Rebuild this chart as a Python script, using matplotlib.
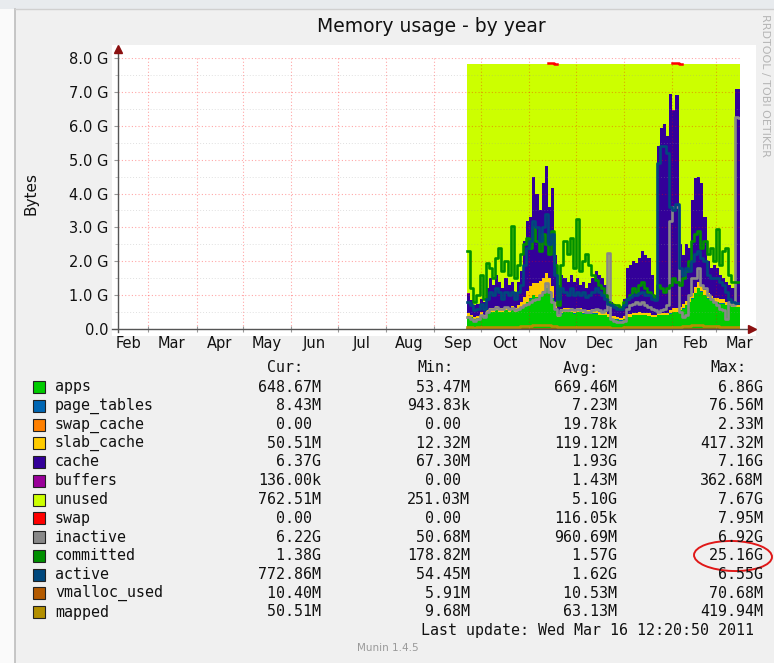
import numpy as np
import pandas as pd
import matplotlib
matplotlib.use('Agg')
import matplotlib.pyplot as plt
import matplotlib.dates as mdates
from matplotlib.ticker import MultipleLocator, FuncFormatter, NullFormatter
from matplotlib.patches import Rectangle, Ellipse

plt.rcParams['font.family'] = ['DejaVu Sans']

# samples every 2 days, Sep 22 2010 -> Mar 15 2011 (GB)
apps = [0.38,0.35,0.30,0.32,0.40,0.35,0.45,0.50,0.50,0.55,
        0.50,0.50,0.55,0.50,0.55,0.50,0.55,0.60,0.70,0.80,
        0.90,1.00,0.95,1.00,1.10,1.20,1.10,0.90,0.60,0.35,
        0.45,0.50,0.50,0.50,0.45,0.50,0.50,0.45,0.45,0.45,
        0.45,0.45,0.40,0.40,0.40,0.35,0.30,0.30,0.28,0.25,
        0.30,0.35,0.35,0.40,0.40,0.40,0.40,0.40,0.38,0.35,
        0.35,0.40,0.40,0.40,0.40,0.45,0.50,0.50,0.55,0.60,
        0.70,0.80,0.90,1.05,1.20,1.10,1.00,0.90,0.85,0.80,
        0.80,0.75,0.75,0.70,0.70,0.65,0.65,0.65]
page_tables = [0.007,0.007,0.007,0.007,0.008,0.007,0.008,0.008,0.008,0.008,
               0.008,0.008,0.008,0.008,0.008,0.008,0.008,0.008,0.009,0.009,
               0.009,0.009,0.009,0.009,0.009,0.009,0.009,0.009,0.008,0.007,
               0.008,0.008,0.008,0.008,0.008,0.008,0.008,0.008,0.008,0.008,
               0.008,0.008,0.007,0.007,0.007,0.007,0.006,0.006,0.006,0.006,
               0.007,0.007,0.007,0.007,0.007,0.007,0.007,0.007,0.007,0.007,
               0.007,0.007,0.007,0.007,0.007,0.008,0.008,0.008,0.008,0.008,
               0.008,0.009,0.009,0.009,0.009,0.009,0.009,0.008,0.008,0.008,
               0.008,0.008,0.008,0.008,0.008,0.008,0.008,0.008]
swap_cache = [0.0,0.0,0.0,0.0,0.0,0.0,0.0,0.0,0.0,0.0,
              0.0,0.0,0.0,0.0,0.0,0.0,0.0,0.0,0.0,0.0,
              0.0,0.0,0.0,0.0,0.0,0.0,0.001,0.002,0.0,0.0,
              0.0,0.0,0.0,0.0,0.0,0.0,0.0,0.0,0.0,0.0,
              0.0,0.0,0.0,0.0,0.0,0.0,0.0,0.0,0.0,0.0,
              0.0,0.0,0.0,0.0,0.0,0.0,0.0,0.0,0.0,0.0,
              0.0,0.0,0.0,0.0,0.0,0.0,0.002,0.001,0.0,0.0,
              0.0,0.0,0.0,0.0,0.0,0.0,0.0,0.0,0.0,0.0,
              0.0,0.0,0.0,0.0,0.0,0.0,0.0,0.0]
slab_cache = [0.08,0.07,0.06,0.07,0.08,0.07,0.10,0.12,0.10,0.12,
              0.10,0.12,0.10,0.10,0.12,0.10,0.15,0.20,0.25,0.30,
              0.35,0.35,0.40,0.40,0.40,0.45,0.40,0.35,0.20,0.10,
              0.12,0.10,0.10,0.12,0.10,0.12,0.10,0.10,0.10,0.10,
              0.12,0.12,0.10,0.10,0.10,0.08,0.08,0.07,0.06,0.06,
              0.07,0.08,0.08,0.08,0.08,0.09,0.08,0.08,0.08,0.07,
              0.07,0.08,0.08,0.08,0.08,0.09,0.10,0.10,0.10,0.12,
              0.13,0.15,0.15,0.18,0.18,0.16,0.15,0.14,0.13,0.12,
              0.12,0.12,0.12,0.10,0.10,0.10,0.05,0.05]
cache = [0.58,0.42,0.33,0.35,0.41,0.37,0.64,0.87,0.69,0.92,
         0.79,0.57,0.84,0.69,0.72,0.49,0.69,0.89,1.64,2.09,
         2.04,3.14,2.64,2.09,2.79,3.14,2.09,2.89,1.39,0.84,
         1.02,0.89,0.79,0.97,0.84,0.87,0.69,0.84,0.64,0.79,
         0.92,1.12,1.09,0.99,0.79,0.46,0.41,0.37,0.30,0.28,
         0.52,1.36,1.46,1.51,1.46,1.60,1.81,1.71,1.63,1.17,
         0.57,4.91,5.46,5.56,5.21,6.40,5.84,6.29,1.84,1.47,
         1.66,1.44,2.74,3.21,3.11,3.03,2.14,0.95,0.81,0.97,
         0.87,0.72,0.62,0.59,0.49,0.44,6.39,6.39]
buffers = [0.001,0.001,0.001,0.001,0.001,0.001,0.001,0.001,0.001,0.001,
           0.001,0.001,0.001,0.001,0.001,0.001,0.001,0.001,0.001,0.001,
           0.001,0.002,0.001,0.001,0.002,0.002,0.001,0.001,0.001,0.001,
           0.001,0.001,0.001,0.001,0.001,0.001,0.001,0.001,0.001,0.001,
           0.001,0.001,0.001,0.001,0.001,0.001,0.001,0.001,0.001,0.001,
           0.001,0.001,0.001,0.001,0.001,0.001,0.001,0.001,0.001,0.001,
           0.001,0.001,0.001,0.001,0.001,0.002,0.002,0.001,0.001,0.001,
           0.001,0.001,0.001,0.001,0.001,0.001,0.001,0.001,0.001,0.001,
           0.001,0.001,0.001,0.001,0.001,0.001,0.0,0.0]
unused = [6.78,6.98,7.13,7.08,6.93,7.03,6.63,6.33,6.53,6.23,
          6.43,6.63,6.33,6.53,6.43,6.73,6.43,6.13,5.23,4.63,
          4.53,3.33,3.83,4.33,3.53,3.03,4.23,3.68,5.63,6.53,
          6.23,6.33,6.43,6.23,6.43,6.33,6.53,6.43,6.63,6.48,
          6.33,6.13,6.23,6.33,6.53,6.93,7.03,7.08,7.18,7.23,
          6.93,6.03,5.93,5.83,5.88,5.73,5.53,5.63,5.73,6.23,
          6.83,2.43,1.88,1.78,2.13,0.88,1.38,0.93,5.33,5.63,
          5.33,5.43,4.03,3.38,3.33,3.53,4.53,5.83,6.03,5.93,
          6.03,6.23,6.33,6.43,6.53,6.63,0.73,0.73]
swap = [0,0,0,0,0,0,0,0,0,0,
        0,0,0,0,0,0,0,0,0,0,
        0,0,0,0,0,0,0.008,0.008,0.008,0,
        0,0,0,0,0,0,0,0,0,0,
        0,0,0,0,0,0,0,0,0,0,
        0,0,0,0,0,0,0,0,0,0,
        0,0,0,0,0,0,0.008,0.008,0.008,0,
        0,0,0,0,0,0,0,0,0,0,
        0,0,0,0,0,0,0,0]
inactive = [0.35,0.30,0.25,0.30,0.40,0.35,0.50,0.60,0.60,0.65,
            0.60,0.60,0.65,0.60,0.62,0.55,0.60,0.65,0.70,0.75,
            0.80,0.85,0.90,1.00,1.10,1.35,1.10,0.80,0.60,0.40,
            0.55,0.55,0.55,0.60,0.55,0.60,0.55,0.55,0.50,0.50,
            0.55,0.60,0.55,0.50,0.55,2.25,0.30,0.25,0.20,0.20,
            0.25,0.60,0.70,0.75,0.80,0.75,0.80,0.70,0.65,0.60,
            0.55,0.50,0.55,0.60,0.70,3.20,3.60,3.60,0.50,0.35,
            0.40,1.00,1.50,1.50,1.80,1.30,1.20,1.00,0.90,0.80,
            0.70,0.60,0.55,0.30,0.80,0.70,6.25,6.22]
committed = [2.30,1.20,0.80,1.00,1.60,0.90,1.95,1.80,1.50,2.10,
             2.40,1.70,2.00,1.60,3.05,1.50,1.90,2.20,2.50,2.70,
             2.40,3.00,2.60,2.30,2.80,2.50,2.20,2.90,1.90,0.70,
             1.90,2.60,2.20,2.70,1.80,3.25,1.70,2.00,2.20,1.90,
             1.60,1.45,1.30,1.20,1.00,0.80,0.75,0.70,0.70,0.65,
             0.80,0.90,1.00,1.20,1.10,1.30,1.40,1.20,1.10,1.00,
             0.90,1.30,1.20,1.10,1.20,1.30,1.50,1.40,1.30,1.50,
             1.70,2.00,2.60,2.80,2.90,2.40,2.60,2.20,2.40,2.00,
             2.95,1.90,2.30,2.40,1.60,1.40,1.40,1.38]
active = [0.80,0.70,0.55,0.60,0.75,0.60,0.90,1.10,1.00,1.20,
          1.10,0.90,1.10,1.00,1.10,0.90,1.10,1.30,1.90,2.40,
          2.60,3.20,3.00,2.60,3.00,3.40,2.50,2.80,1.60,0.90,
          1.20,1.10,1.00,1.20,1.00,1.10,1.00,1.10,0.95,1.00,
          1.10,1.20,1.10,1.00,0.90,0.75,0.70,0.65,0.60,0.60,
          0.70,0.90,0.95,1.00,1.00,1.05,1.10,1.00,1.00,0.90,
          0.85,4.90,5.40,5.40,5.20,3.60,3.50,3.70,1.80,1.60,
          1.80,1.70,2.00,2.20,2.30,2.10,2.00,1.60,1.50,1.50,
          1.50,1.40,1.30,1.10,0.90,0.80,0.78,0.77]
vmalloc_used = [0.010,0.010,0.009,0.010,0.010,0.010,0.011,0.011,0.010,0.011,
                0.010,0.010,0.011,0.010,0.011,0.010,0.011,0.011,0.012,0.012,
                0.012,0.013,0.012,0.012,0.013,0.013,0.012,0.012,0.011,0.010,
                0.010,0.011,0.010,0.011,0.010,0.011,0.010,0.010,0.010,0.010,
                0.010,0.010,0.009,0.009,0.009,0.009,0.008,0.008,0.008,0.008,
                0.009,0.009,0.009,0.010,0.010,0.010,0.010,0.010,0.009,0.009,
                0.009,0.010,0.010,0.010,0.010,0.011,0.011,0.011,0.011,0.011,
                0.012,0.012,0.012,0.013,0.013,0.012,0.012,0.011,0.011,0.011,
                0.011,0.011,0.010,0.010,0.010,0.010,0.010,0.010]
mapped = [0.05,0.05,0.04,0.05,0.05,0.05,0.06,0.06,0.06,0.07,
          0.06,0.06,0.07,0.06,0.07,0.06,0.07,0.08,0.09,0.10,
          0.10,0.11,0.11,0.12,0.12,0.13,0.12,0.10,0.08,0.06,
          0.06,0.07,0.06,0.07,0.06,0.07,0.06,0.06,0.06,0.06,
          0.06,0.06,0.05,0.05,0.05,0.05,0.04,0.04,0.04,0.04,
          0.05,0.05,0.05,0.06,0.06,0.06,0.06,0.06,0.05,0.05,
          0.05,0.06,0.06,0.06,0.06,0.07,0.07,0.07,0.07,0.08,
          0.09,0.10,0.11,0.12,0.12,0.11,0.10,0.09,0.08,0.08,
          0.08,0.07,0.07,0.07,0.06,0.06,0.05,0.05]

names = ['apps', 'page_tables', 'swap_cache', 'slab_cache', 'cache', 'buffers',
         'unused', 'swap', 'inactive', 'committed', 'active', 'vmalloc_used', 'mapped']
colors = ['#00CC00', '#0066B3', '#FF8000', '#FFCC00', '#330099', '#990099',
          '#CCFF00', '#FF0000', '#888888', '#008F00', '#00487D', '#B35A00', '#B38F00']
cur = ['648.67M', '8.43M', '0.00 ', '50.51M', '6.37G', '136.00k', '762.51M',
       '0.00 ', '6.22G', '1.38G', '772.86M', '10.40M', '50.51M']
mins = ['53.47M', '943.83k', '0.00 ', '12.32M', '67.30M', '0.00 ', '251.03M',
        '0.00 ', '50.68M', '178.82M', '54.45M', '5.91M', '9.68M']
avgs = ['669.46M', '7.23M', '19.78k', '119.12M', '1.93G', '1.43M', '5.10G',
        '116.05k', '960.69M', '1.57G', '1.62G', '10.53M', '63.13M']
maxs = ['6.86G', '76.56M', '2.33M', '417.32M', '7.16G', '362.68M', '7.67G',
        '7.95M', '6.92G', '25.16G', '6.55G', '70.68M', '419.94M']

W, H = 774, 663
def fx(x):
    return x / W
def fy(y):
    return 1 - y / H

fig = plt.figure(figsize=(W / 100, H / 100), dpi=100, facecolor='#F0F0F0')

# screenshot frame + white canvas
fig.patches.append(Rectangle((0, 0), fx(15), 1, transform=fig.transFigure,
                             facecolor='#FAFAFA', edgecolor='none', zorder=-3))
fig.patches.append(Rectangle((0, fy(9)), 1, 9 / H, transform=fig.transFigure,
                             facecolor='#E8EBEE', edgecolor='none', zorder=-3))
fig.add_artist(plt.Line2D([fx(15), fx(15)], [0, fy(9)], color='#BDBDBD', lw=1.2))
fig.add_artist(plt.Line2D([fx(15), 1], [fy(9), fy(9)], color='#D0D0D0', lw=1))
fig.patches.append(Rectangle((fx(112), fy(336)), (756 - 112) / W, (336 - 45) / H,
                             transform=fig.transFigure, facecolor='white',
                             edgecolor='none', zorder=-2))

ax = fig.add_axes([fx(118), fy(329), (740 - 118) / W, (329 - 58) / H])
ax.set_facecolor('none')

dates = pd.date_range('2010-09-22', periods=len(apps), freq='2D')
xe = mdates.date2num(list(dates.to_pydatetime()) +
                     [pd.Timestamp('2011-03-16 12:20').to_pydatetime()])

def ext(v):
    v = np.asarray(v, dtype=float)
    return np.append(v, v[-1])

stack = [apps, page_tables, swap_cache, slab_cache, cache, buffers, unused, swap]
bottom = np.zeros(len(apps))
for vals, c in zip(stack, colors[:8]):
    top = bottom + np.asarray(vals)
    ax.fill_between(xe, ext(bottom), ext(top), step='post', color=c, lw=0, zorder=1)
    if c == '#FF0000':
        sw = np.where(np.asarray(vals) > 0, top, np.nan)
        ax.step(xe, ext(sw), where='post', color=c, lw=1.8, zorder=3, clip_on=False)
    bottom = top

for vals, c in zip([inactive, committed, active, vmalloc_used, mapped], colors[8:]):
    ax.step(xe, ext(vals), where='post', color=c, lw=1.9, zorder=3)

ax.set_xlim(mdates.date2num(pd.Timestamp('2010-02-09 12:20').to_pydatetime()), xe[-1])
ax.set_ylim(0, 8.0)

ax.xaxis.set_major_locator(mdates.MonthLocator())
ax.xaxis.set_major_formatter(NullFormatter())
ax.xaxis.set_minor_locator(mdates.MonthLocator(bymonthday=16))
ax.xaxis.set_minor_formatter(mdates.DateFormatter('%b'))
ax.yaxis.set_major_locator(MultipleLocator(1.0))
ax.yaxis.set_minor_locator(MultipleLocator(0.5))
ax.yaxis.set_major_formatter(FuncFormatter(lambda v, p: '0.0' if v == 0 else f'{v:.1f} G'))

ax.tick_params(axis='x', which='major', direction='inout', length=4, color='#999999')
ax.tick_params(axis='x', which='minor', length=0, pad=5, labelsize=10.5, labelcolor='#111111')
ax.tick_params(axis='y', which='major', direction='out', length=3, pad=4,
               color='#999999', labelsize=10.5, labelcolor='#111111')
ax.tick_params(axis='y', which='minor', direction='out', length=2, color='#BBBBBB')

ax.set_axisbelow(False)
ax.grid(True, which='major', axis='both', color='#FF0000', alpha=0.35,
        linestyle=(0, (1, 2)), lw=0.8)
ax.grid(True, which='minor', axis='y', color='#999999', alpha=0.3,
        linestyle=(0, (1, 2)), lw=0.7)
for s in ax.spines.values():
    s.set_visible(False)

# axis lines with arrow heads
ax.plot([-0.01, 1.015], [0, 0], transform=ax.transAxes, color='#555555', lw=1,
        clip_on=False, zorder=4)
ax.plot([0, 0], [-0.01, 1.03], transform=ax.transAxes, color='#555555', lw=1,
        clip_on=False, zorder=4)
ax.plot([1.02], [0], marker='>', ms=6, color='#8B1010', transform=ax.transAxes,
        clip_on=False, zorder=5)
ax.plot([0], [1.035], marker='^', ms=6, color='#8B1010', transform=ax.transAxes,
        clip_on=False, zorder=5)

fig.text(fx(431), fy(27), 'Memory usage - by year', ha='center', va='center',
         fontsize=13.5, color='#111111')
fig.text(fx(31), fy(193), 'Bytes', rotation=90, ha='center', va='center',
         fontsize=11, color='#111111')
fig.text(fx(765), fy(14), 'RRDTOOL / TOBI OETIKER', rotation=270, ha='center',
         va='top', fontsize=8, color='#B5B5B5')

# legend table
mono = dict(family='DejaVu Sans Mono', fontsize=10.8, color='#111111', va='center')
cols = [258, 407, 554, 700]
for x0, hdr in zip([267, 417, 563, 710], ['Cur:', 'Min:', 'Avg:', 'Max:']):
    fig.text(fx(x0), fy(368), hdr, ha='left', **mono)
for k, (nm, c) in enumerate(zip(names, colors)):
    yy = 387 + k * 18.75
    fig.patches.append(Rectangle((fx(33), fy(yy + 6)), 12 / W, 12 / H,
                                 transform=fig.transFigure, facecolor=c,
                                 edgecolor='#222222', lw=0.8))
    fig.text(fx(55), fy(yy), nm, ha='left', **mono)
    for x0, col in zip(cols, [cur, mins, avgs, maxs]):
        fig.text(fx(x0), fy(yy), col[k].rjust(7), ha='left', **mono)
fig.text(fx(421), fy(631), 'Last update: Wed Mar 16 12:20:50 2011', ha='left', **mono)
fig.text(fx(388), fy(648), 'Munin 1.4.5', ha='center', va='center',
         fontsize=7.5, color='#9A9A9A')

# hand-drawn highlight around the committed max
fig.patches.append(Ellipse((fx(733), fy(556)), 78 / W, 30 / H, angle=-2,
                           transform=fig.transFigure, fill=False,
                           edgecolor='#E01818', lw=1.4))

fig.savefig('out.png', dpi=100, facecolor=fig.get_facecolor())
